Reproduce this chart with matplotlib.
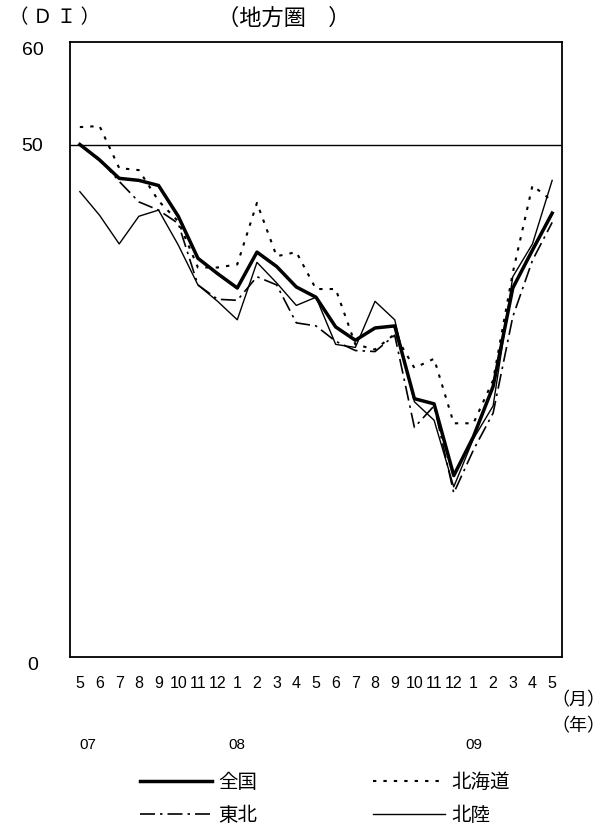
import matplotlib
matplotlib.use("Agg")
import matplotlib.pyplot as plt
from matplotlib.transforms import blended_transform_factory, ScaledTranslation

plt.rcParams['font.family'] = ['Liberation Sans', 'Noto Sans CJK JP']
jp = ['Noto Sans CJK JP', 'DejaVu Sans']

# 2007/5 - 2009/5
months = ['5', '6', '7', '8', '9', '10', '11', '12', '1', '2', '3', '4',
          '5', '6', '7', '8', '9', '10', '11', '12', '1', '2', '3', '4', '5']
years = ['07', '08', '09']
year_idx = [0.4, 8, 20]

zenkoku = [50.0, 48.5, 46.7, 46.5, 46.0, 43.0, 38.9, 37.4, 36.0, 39.5, 38.1, 36.1, 35.1,
           32.2, 30.9, 32.1, 32.3, 25.2, 24.7, 17.7, 21.5, 26.4, 36.0, 39.7, 43.3]
hokkaido = [51.7, 51.8, 47.7, 47.5, 44.5, 42.5, 38.0, 38.0, 38.3, 44.3, 39.1, 39.5, 35.9,
            35.9, 30.5, 30.0, 31.5, 28.2, 29.1, 22.8, 22.8, 27.0, 37.5, 46.0, 44.5]
tohoku = [50.0, 48.6, 46.4, 44.4, 43.6, 42.3, 36.3, 34.9, 34.8, 37.1, 36.3, 32.6, 32.3,
          30.8, 29.9, 29.8, 31.4, 22.4, 24.5, 16.0, 20.2, 23.8, 33.2, 38.7, 42.4]
hokuriku = [45.4, 43.1, 40.3, 43.0, 43.6, 40.2, 36.3, 34.7, 32.9, 38.5, 36.5, 34.3, 35.1,
            30.5, 30.2, 34.7, 32.9, 24.9, 23.1, 16.6, 21.3, 24.5, 37.1, 40.3, 46.5]

fig = plt.figure(figsize=(6.09, 8.32), dpi=100)
ax = fig.add_axes([70 / 609, 1 - 657 / 832, 492 / 609, 615 / 832])

x = list(range(len(months)))
l1, = ax.plot(x, zenkoku, color='black', lw=2.5, label='全国')
l2, = ax.plot(x, hokkaido, color='black', lw=1.5, linestyle=(0, (1.6, 3.4)), label='北海道')
l3, = ax.plot(x, tohoku, color='black', lw=1.2, linestyle=(0, (9, 3, 1.5, 3)), label='東北')
l4, = ax.plot(x, hokuriku, color='black', lw=1.0, label='北陸')
ax.axhline(50, color='black', lw=1.0)

ax.set_xlim(-0.5, 24.5)
ax.set_ylim(0, 60)
ax.set_yticks([0, 50, 60])
ax.set_xticks(x)
ax.set_xticklabels(months)
ax.tick_params(axis='both', length=0)
ax.tick_params(axis='x', pad=14, labelsize=11.5)
ax.tick_params(axis='y', pad=27, labelsize=14)
ylabs = ax.get_yticklabels()
for lab in ylabs:
    lab.set_horizontalalignment('center')
# 0と60のラベルは少し下
shift = ScaledTranslation(0, -5 / 72, fig.dpi_scale_trans)
for i in (0, 2):
    ylabs[i].set_transform(ylabs[i].get_transform() + shift)
for s in ax.spines.values():
    s.set_linewidth(1.3)

# 年ラベル
tr = blended_transform_factory(ax.transData, fig.transFigure)
for yr, xi in zip(years, year_idx):
    ax.text(xi, 1 - 745 / 832, yr, transform=tr, ha='center', va='center', fontsize=11)

fig.text(605 / 609, 1 - 700 / 832, '（月）', family=jp, ha='right', va='center', fontsize=13)
fig.text(605 / 609, 1 - 726 / 832, '（年）', family=jp, ha='right', va='center', fontsize=13)
fig.text(55 / 609, 1 - 18 / 832, '（ Ｄ Ｉ ）', family=jp, ha='center', va='center', fontsize=14)
fig.text(284 / 609, 1 - 18 / 832, '（地方圏　）', family=jp, ha='center', va='center', fontsize=16)

leg = fig.legend(handles=[l1, l3, l2, l4], ncol=2, loc='upper left',
                 bbox_to_anchor=(140 / 609, 1 - 772 / 832), frameon=False,
                 prop={'family': jp, 'size': 14}, handlelength=3.7, handletextpad=0.3,
                 columnspacing=6.0, labelspacing=0.6, borderpad=0, borderaxespad=0)

fig.savefig('out.png', dpi=100)
